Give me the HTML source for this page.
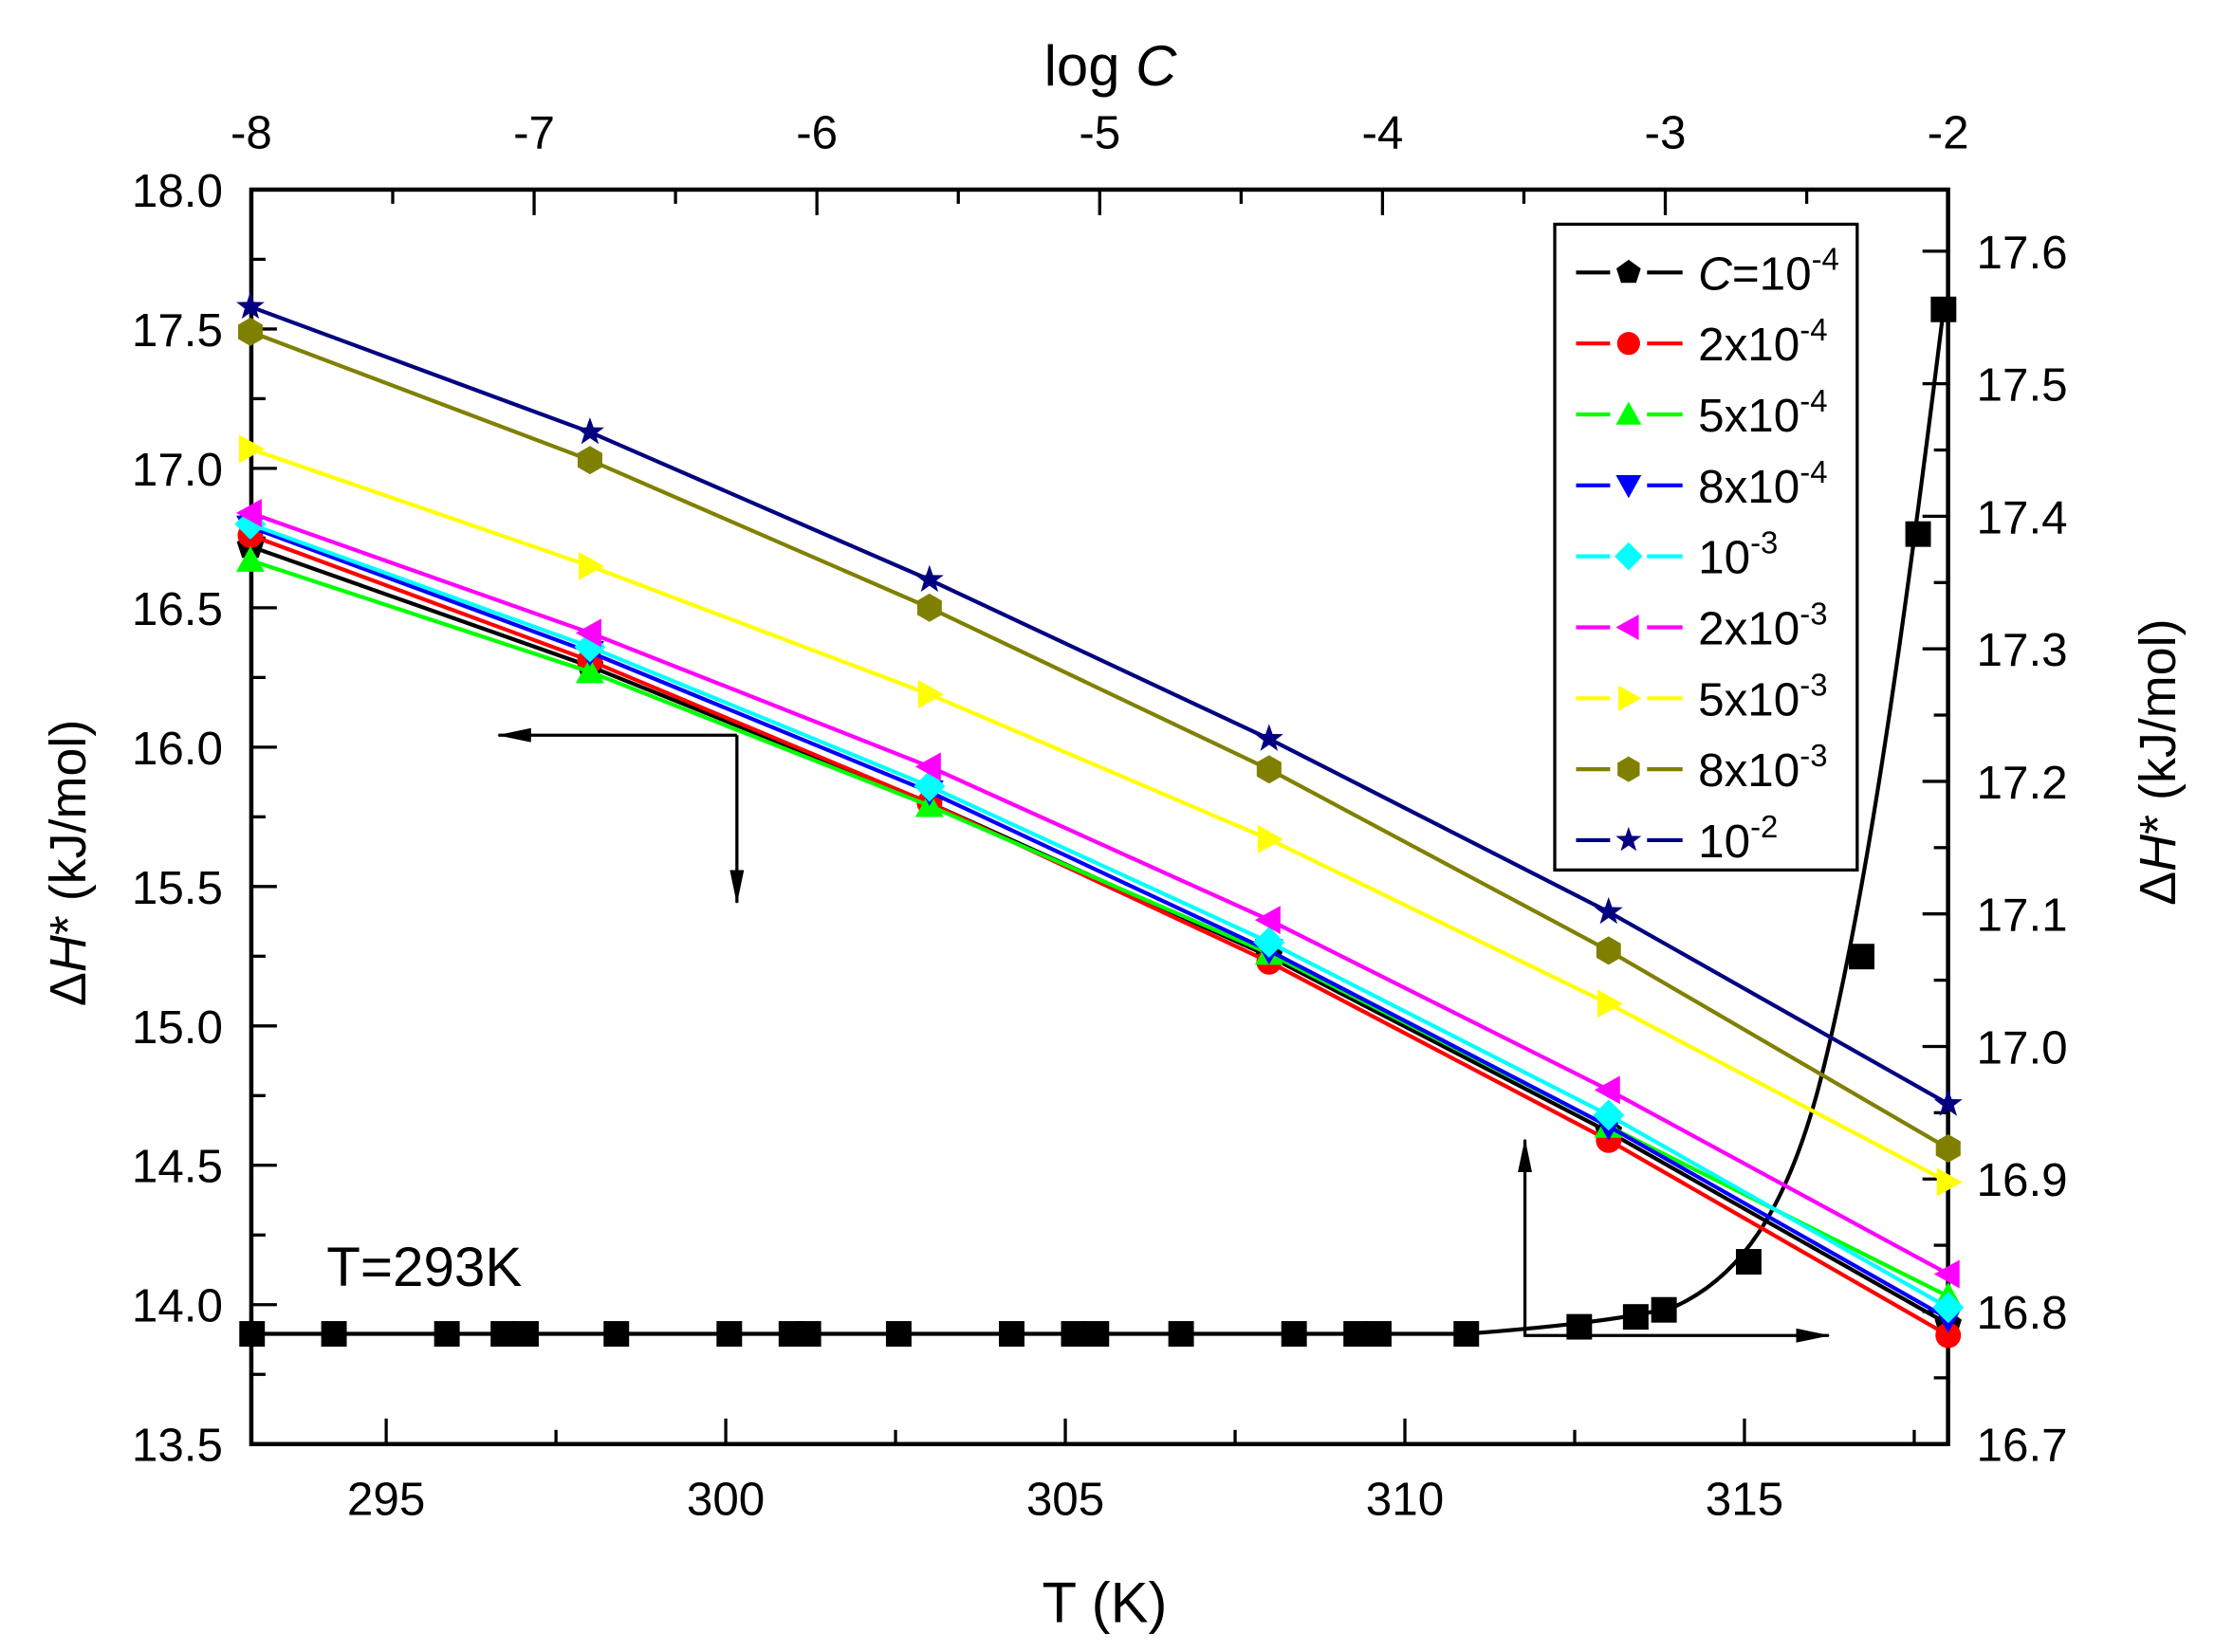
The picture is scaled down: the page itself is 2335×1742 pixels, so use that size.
<!DOCTYPE html>
<html><head><meta charset="utf-8"><style>
html,body{margin:0;padding:0;background:#fff;}
svg{display:block;}
text{font-family:"Liberation Sans",sans-serif;fill:#000;}
</style></head><body>
<svg id="s" width="2335" height="1742" viewBox="0 0 1560 1164" preserveAspectRatio="none" xmlns="http://www.w3.org/2000/svg">
<defs>
<marker id="ah2" markerWidth="24" markerHeight="10" refX="23" refY="5" orient="auto" markerUnits="userSpaceOnUse"><path d="M0,0 L24,5 L0,10 Z" fill="#000"/></marker>
</defs>
<g id="g"></g>
</svg>
<script>
var g=document.getElementById('g'),h='';
var L=177,R=1372,T=133.6,B=1017.5;
function xT(t){return 272+(t-295)*47.83;}
function yL(v){return T+(18-v)*196.42;}
function yR(v){return B-(v-16.7)*933.9;}
function oldY(y){return yL(18-(y-133)/197.6);}
function oldX(x){return xT(295+(x-273)/48.1);}
function oldYR(y){return yR(16.7+(1022-y)/938);}
h+='<rect x="'+L+'" y="'+T+'" width="'+(R-L)+'" height="'+(B-T)+'" fill="none" stroke="#000" stroke-width="3"/>';
for(var t=292.5;t<=318;t+=2.5){var x=xT(t);if(x<L-1)continue;var maj=(t%5===0);
h+='<line x1="'+x+'" y1="'+B+'" x2="'+x+'" y2="'+(B-(maj?18:10))+'" stroke="#000" stroke-width="2.2"/>';
if(maj)h+='<text x="'+x+'" y="'+(B+50)+'" font-size="33" text-anchor="middle">'+t+'</text>';}
for(var k=-8;k<=-2;k+=0.5){var x=L+(k+8)*199.17;var maj=(k%1===0);
h+='<line x1="'+x+'" y1="'+T+'" x2="'+x+'" y2="'+(T+(maj?18:10))+'" stroke="#000" stroke-width="2.2"/>';
if(maj)h+='<text x="'+x+'" y="'+(T-29)+'" font-size="33" text-anchor="middle">'+k+'</text>';}
for(var v=13.5;v<=18.001;v+=0.25){var y=yL(v);var maj=Math.abs(v*2-Math.round(v*2))<1e-6;
h+='<line x1="'+L+'" y1="'+y+'" x2="'+(L+(maj?18:10))+'" y2="'+y+'" stroke="#000" stroke-width="2.2"/>';
if(maj)h+='<text x="'+(L-20)+'" y="'+(y+12)+'" font-size="33" text-anchor="end">'+v.toFixed(1)+'</text>';}
for(var i=0;i<=19;i++){var v=16.7+i*0.05;var y=yR(v);if(y<T)continue;var maj=(i%2===0);
h+='<line x1="'+R+'" y1="'+y+'" x2="'+(R-(maj?18:10))+'" y2="'+y+'" stroke="#000" stroke-width="2.2"/>';
if(maj)h+='<text x="'+(R+20)+'" y="'+(y+12)+'" font-size="33">'+v.toFixed(1)+'</text>';}
h+='<text x="782" y="60" font-size="40" text-anchor="middle">log <tspan font-style="italic">C</tspan></text>';
h+='<text x="778" y="1143" font-size="40" text-anchor="middle">T (K)</text>';
h+='<text transform="translate(60,608) rotate(-90)" font-size="36" text-anchor="middle">Δ<tspan font-style="italic">H</tspan>* (kJ/mol)</text>';
h+='<text transform="translate(1532,537) rotate(-90)" font-size="36" text-anchor="middle">Δ<tspan font-style="italic">H</tspan>* (kJ/mol)</text>';
h+='<text x="230" y="906" font-size="39">T=293K</text>';
h+='<line x1="519" y1="518" x2="351" y2="518" stroke="#000" stroke-width="2.2" marker-end="url(#ah2)"/>';
h+='<line x1="519" y1="518" x2="519" y2="636" stroke="#000" stroke-width="2.2" marker-end="url(#ah2)"/>';
h+='<line x1="1074" y1="942" x2="1074" y2="803" stroke="#000" stroke-width="2.2" marker-end="url(#ah2)"/>';
h+='<line x1="1074" y1="941" x2="1288" y2="941" stroke="#000" stroke-width="2.2" marker-end="url(#ah2)"/>';
function mk(s,x,y,c,r){r=r||10;var p;
switch(s){
case'pent':p=[];for(var i=0;i<5;i++){var a=-Math.PI/2+i*2*Math.PI/5;p.push((x+r*Math.cos(a)).toFixed(1)+','+(y+r*Math.sin(a)).toFixed(1));}return '<polygon points="'+p.join(' ')+'" fill="'+c+'"/>';
case'circ':return '<circle cx="'+x+'" cy="'+y+'" r="'+(r*0.9)+'" fill="'+c+'"/>';
case'up':return '<polygon points="'+x+','+(y-r)+' '+(x+r)+','+(y+r*0.8)+' '+(x-r)+','+(y+r*0.8)+'" fill="'+c+'"/>';
case'dn':return '<polygon points="'+x+','+(y+r)+' '+(x+r)+','+(y-r*0.8)+' '+(x-r)+','+(y-r*0.8)+'" fill="'+c+'"/>';
case'dia':return '<polygon points="'+x+','+(y-r*1.1)+' '+(x+r*1.1)+','+y+' '+x+','+(y+r*1.1)+' '+(x-r*1.1)+','+y+'" fill="'+c+'"/>';
case'lt':return '<polygon points="'+(x-r)+','+y+' '+(x+r*0.8)+','+(y-r)+' '+(x+r*0.8)+','+(y+r)+'" fill="'+c+'"/>';
case'rt':return '<polygon points="'+(x+r)+','+y+' '+(x-r*0.8)+','+(y-r)+' '+(x-r*0.8)+','+(y+r)+'" fill="'+c+'"/>';
case'hex':p=[];for(var i=0;i<6;i++){var a=-Math.PI/2+i*Math.PI/3;p.push((x+r*Math.cos(a)).toFixed(1)+','+(y+r*Math.sin(a)).toFixed(1));}return '<polygon points="'+p.join(' ')+'" fill="'+c+'"/>';
case'star':p=[];for(var i=0;i<10;i++){var a=-Math.PI/2+i*Math.PI/5,rr=i%2?r*0.42:r*1.05;p.push((x+rr*Math.cos(a)).toFixed(1)+','+(y+rr*Math.sin(a)).toFixed(1));}return '<polygon points="'+p.join(' ')+'" fill="'+c+'"/>';
case'sq':return '<rect x="'+(x-r)+'" y="'+(y-r)+'" width="'+(2*r)+'" height="'+(2*r)+'" fill="'+c+'"/>';
}}
var X=[293,298,303,308,313,318].map(xT);
var S=[
['#000','pent',[385.9,470.9,567.7,676.4,800.9,937.2],'<tspan font-style="italic">C</tspan>=10<tspan dy="-14" font-size="22">-4</tspan>'],
['#f00','circ',[378.0,466.9,567.7,680.4,806.8,945.1],'2x10<tspan dy="-14" font-size="22">-4</tspan>'],
['#0f0','up',[395.8,474.8,569.7,674.4,797.0,917.5],'5x10<tspan dy="-14" font-size="22">-4</tspan>'],
['#00f','dn',[372.1,461.0,559.8,672.4,797.0,933.3],'8x10<tspan dy="-14" font-size="22">-4</tspan>'],
['#0ff','dia',[370.1,457.1,555.9,666.5,789.0,925.4],'10<tspan dy="-14" font-size="22">-3</tspan>'],
['#f0f','lt',[362.2,447.2,542.0,650.7,771.2,901.7],'2x10<tspan dy="-14" font-size="22">-3</tspan>'],
['#ff0','rt',[316.8,399.8,490.7,593.4,710.0,836.5],'5x10<tspan dy="-14" font-size="22">-3</tspan>'],
['#808000','hex',[233.8,324.7,429.4,544.0,672.4,812.7],'8x10<tspan dy="-14" font-size="22">-3</tspan>'],
['#000080','star',[216.0,304.9,409.6,522.3,645.0,781.1],'10<tspan dy="-14" font-size="22">-2</tspan>']];
var sq=[[178,944],[236,944],[316,944],[356,944],[372,944],[436,944],[516,944],[560,944],[572,944],[636,944],[716,944],[760,944],[776,944],[836,944],[916,944],[960,944],[976,944],[1038,944],[1118,939],[1158,932],[1178,927],[1238,893],[1318,677],[1358,378],[1376,219]].map(function(p){return [oldX(p[0]),oldYR(p[1])];});
function P(x,y){return oldX(x).toFixed(1)+','+oldYR(y).toFixed(1);}
h+='<path d="M'+P(178,944)+' L'+P(1038,944)+' C'+P(1090,940)+' '+P(1150,934)+' '+P(1185,925)+' C'+P(1230,905)+' '+P(1265,860)+' '+P(1290,760)+' C'+P(1320,640)+' '+P(1345,470)+' '+P(1376,219)+'" fill="none" stroke="#000" stroke-width="2.8"/>';
sq.forEach(function(p){h+=mk('sq',p[0],p[1],'#000',9);});
S.forEach(function(s){var ys=s[2].map(oldY);var pts=X.map(function(x,i){return x.toFixed(1)+','+ys[i].toFixed(1);}).join(' ');
h+='<polyline points="'+pts+'" fill="none" stroke="'+s[0]+'" stroke-width="2.8"/>';
X.forEach(function(x,i){h+=mk(s[1],x,ys[i],s[0],10);});});
h+='<rect x="1095" y="158" width="213" height="455" fill="#fff" stroke="#000" stroke-width="2.2"/>';
S.forEach(function(s,i){var y=192+i*50;
h+='<line x1="1110" y1="'+y+'" x2="1185" y2="'+y+'" stroke="'+s[0]+'" stroke-width="2.8"/>';
h+='<rect x="1134" y="'+(y-12)+'" width="26" height="24" fill="#fff"/>';
h+=mk(s[1],1147,y,s[0],9);
h+='<text x="1196" y="'+(y+12)+'" font-size="33">'+s[3]+'</text>';});
g.innerHTML=h;
</script>
</body></html>
